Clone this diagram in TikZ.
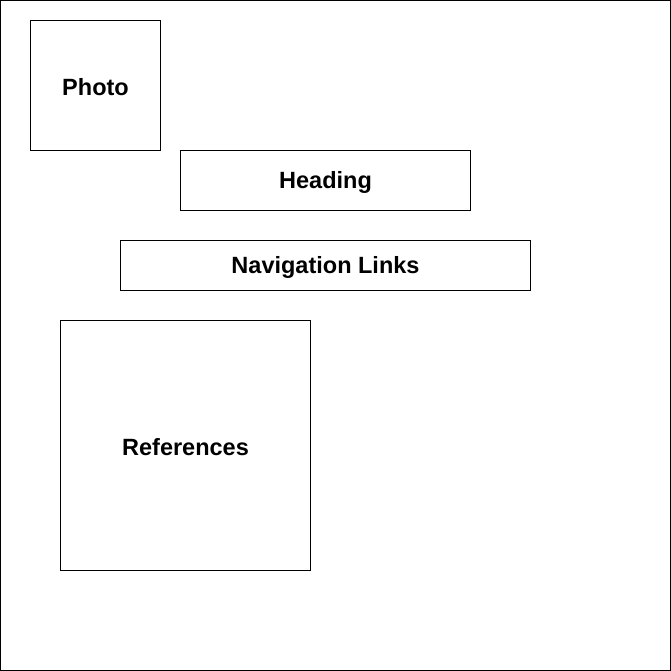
\documentclass[tikz,border=0pt]{standalone}
\usepackage{fontspec}
\setmainfont{Liberation Sans}
\begin{document}
\begin{tikzpicture}[x=1pt,y=-1pt,
  box/.style={draw=black,line width=1pt,fill=white,inner sep=0pt},
  lbl/.style={font=\fontsize{23.5}{28}\selectfont\bfseries,text=black}]
\useasboundingbox (0,0) rectangle (671,671);
\draw[line width=1pt] (0.5,0.5) rectangle (670.5,670.5);
\draw[box] (30.5,20.5) rectangle (160.5,150.5);
\node[lbl] (photo) at (95.5,87) {Photo};
\draw[box] (180.5,150.5) rectangle (470.5,210.5);
\node[lbl] (heading) at (325.5,182) {Heading};
\draw[box] (120.5,240.5) rectangle (530.5,290.5);
\node[lbl] (nav) at (325.5,267) {Navigation Links};
\draw[box] (60.5,320.5) rectangle (310.5,570.5);
\node[lbl] (refs) at (185.5,447) {References};
\end{tikzpicture}
\end{document}
